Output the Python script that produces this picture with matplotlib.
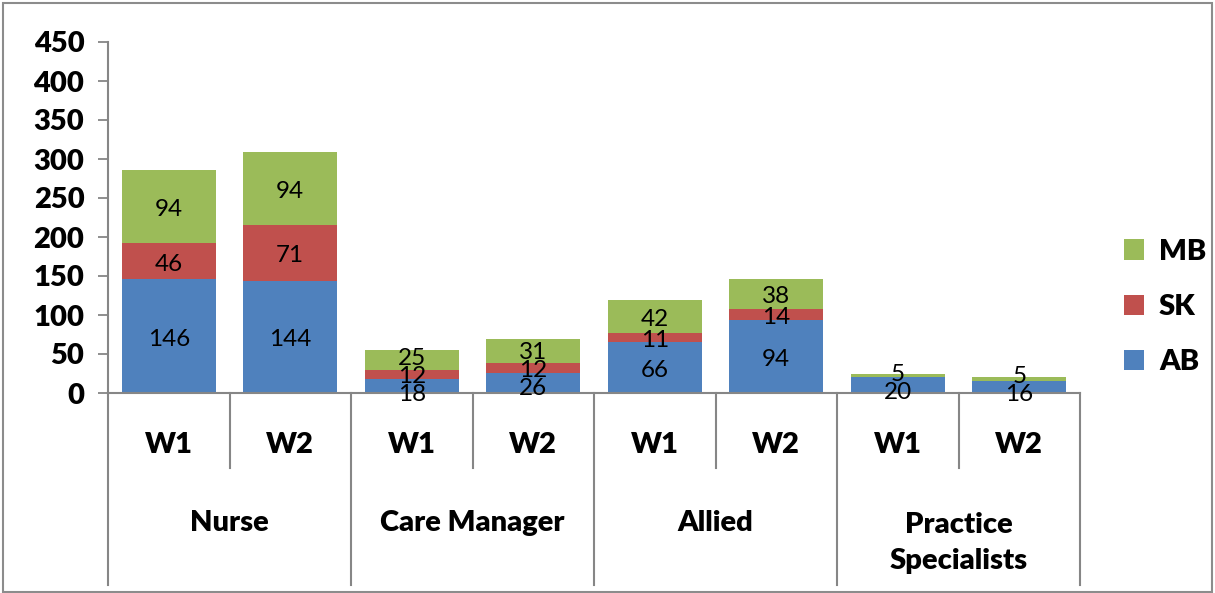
import matplotlib
matplotlib.use("Agg")
import matplotlib.pyplot as plt
from matplotlib.patches import Rectangle
import numpy as np

groups = ["Nurse", "Care Manager", "Allied", "Practice\nSpecialists"]
waves = ["W1", "W2"]
ab = [146, 144, 18, 26, 66, 94, 20, 16]
sk = [46, 71, 12, 12, 11, 14, 0, 0]
mb = [94, 94, 25, 31, 42, 38, 5, 5]
series_names = ["AB", "SK", "MB"]
colors = ["#4F81BD", "#C0504D", "#9BBB59"]
yticks = [0, 50, 100, 150, 200, 250, 300, 350, 400, 450]

plt.rcParams['font.family'] = ['Lato', 'DejaVu Sans']
BW = 800
FS = 21

fig = plt.figure(figsize=(12.15, 5.93), dpi=100)
ax = fig.add_axes([108/1215, 1-393/593, 972/1215, 351/593])
ax.set_xlim(-0.5, len(ab)-0.5)
ax.set_ylim(0, 450)
unit_per_px = 450 / 351.0

x = np.arange(len(ab))
bottom = np.zeros(len(ab))
handles = []
labels_per_bar = [[] for _ in x]
for vals, name, c in zip([ab, sk, mb], series_names, colors):
    vals = np.array(vals, dtype=float)
    b = ax.bar(x, vals, 0.77, bottom=bottom, color=c, edgecolor='none', label=name)
    handles.append(b)
    for xi, v, bt in zip(x, vals, bottom):
        if v > 0:
            labels_per_bar[xi].append([bt + v/2 - 3*unit_per_px, int(v)])
    bottom += vals

# spread overlapping labels apart (like the spreadsheet does)
gap = 18 * unit_per_px
for xi, labs in enumerate(labels_per_bar):
    pos = [p for p, _ in labs]
    for _ in range(100):
        moved = False
        for i in range(1, len(pos)):
            d = pos[i] - pos[i-1]
            if d < gap - 1e-6:
                push = (gap - d) / 2
                pos[i] += push
                pos[i-1] -= push
                moved = True
        if not moved:
            break
    for p, (_, v) in zip(pos, labs):
        ax.text(xi, p, f"{v}", ha='center', va='center', fontsize=17.5, color='black',
                clip_on=False)

ax.set_yticks(yticks)
ax.set_yticklabels([str(t) for t in yticks], fontsize=FS, fontweight=BW)
ax.tick_params(axis='y', direction='out', length=7, width=1.3, color='#868686', pad=10)
ax.set_xticks([])
for s in ['top', 'right']:
    ax.spines[s].set_visible(False)
for s in ['left', 'bottom']:
    ax.spines[s].set_color('#868686')
    ax.spines[s].set_linewidth(1.5)

trans = ax.get_xaxis_transform()
px = 1/351  # axes fraction per pixel vertically
for i in range(len(groups)):
    xs = 2*i + 0.5
    ax.plot([xs, xs], [0, -75*px], transform=trans, color='#868686', lw=1.5, clip_on=False)
for i in range(len(groups)+1):
    xs = 2*i - 0.5
    ax.plot([xs, xs], [0, -192*px], transform=trans, color='#868686', lw=1.5, clip_on=False)
for xi in x:
    ax.text(xi, -52*px, waves[xi % 2], transform=trans, ha='center', va='center',
            fontsize=FS, fontweight=BW)
for i, g in enumerate(groups):
    yy = -130*px if '\n' not in g else -150*px
    ax.text(2*i + 0.5, yy, g, transform=trans, ha='center', va='center',
            fontsize=FS, fontweight=BW, linespacing=1.45)

leg = fig.legend([handles[2], handles[1], handles[0]], ["MB", "SK", "AB"],
                 loc='center left', bbox_to_anchor=(1124/1215, 1-307/593),
                 frameon=False, prop={'weight': BW, 'size': FS},
                 borderpad=0, borderaxespad=0,
                 handlelength=0.7, handleheight=0.7, labelspacing=1.0, handletextpad=0.5)

fig.patches.append(Rectangle((3/1215, 1/593), 1209/1215, 589/593, transform=fig.transFigure,
                             fill=False, edgecolor='#8c8c8c', lw=1.5))

fig.savefig("out.png", dpi=100)
